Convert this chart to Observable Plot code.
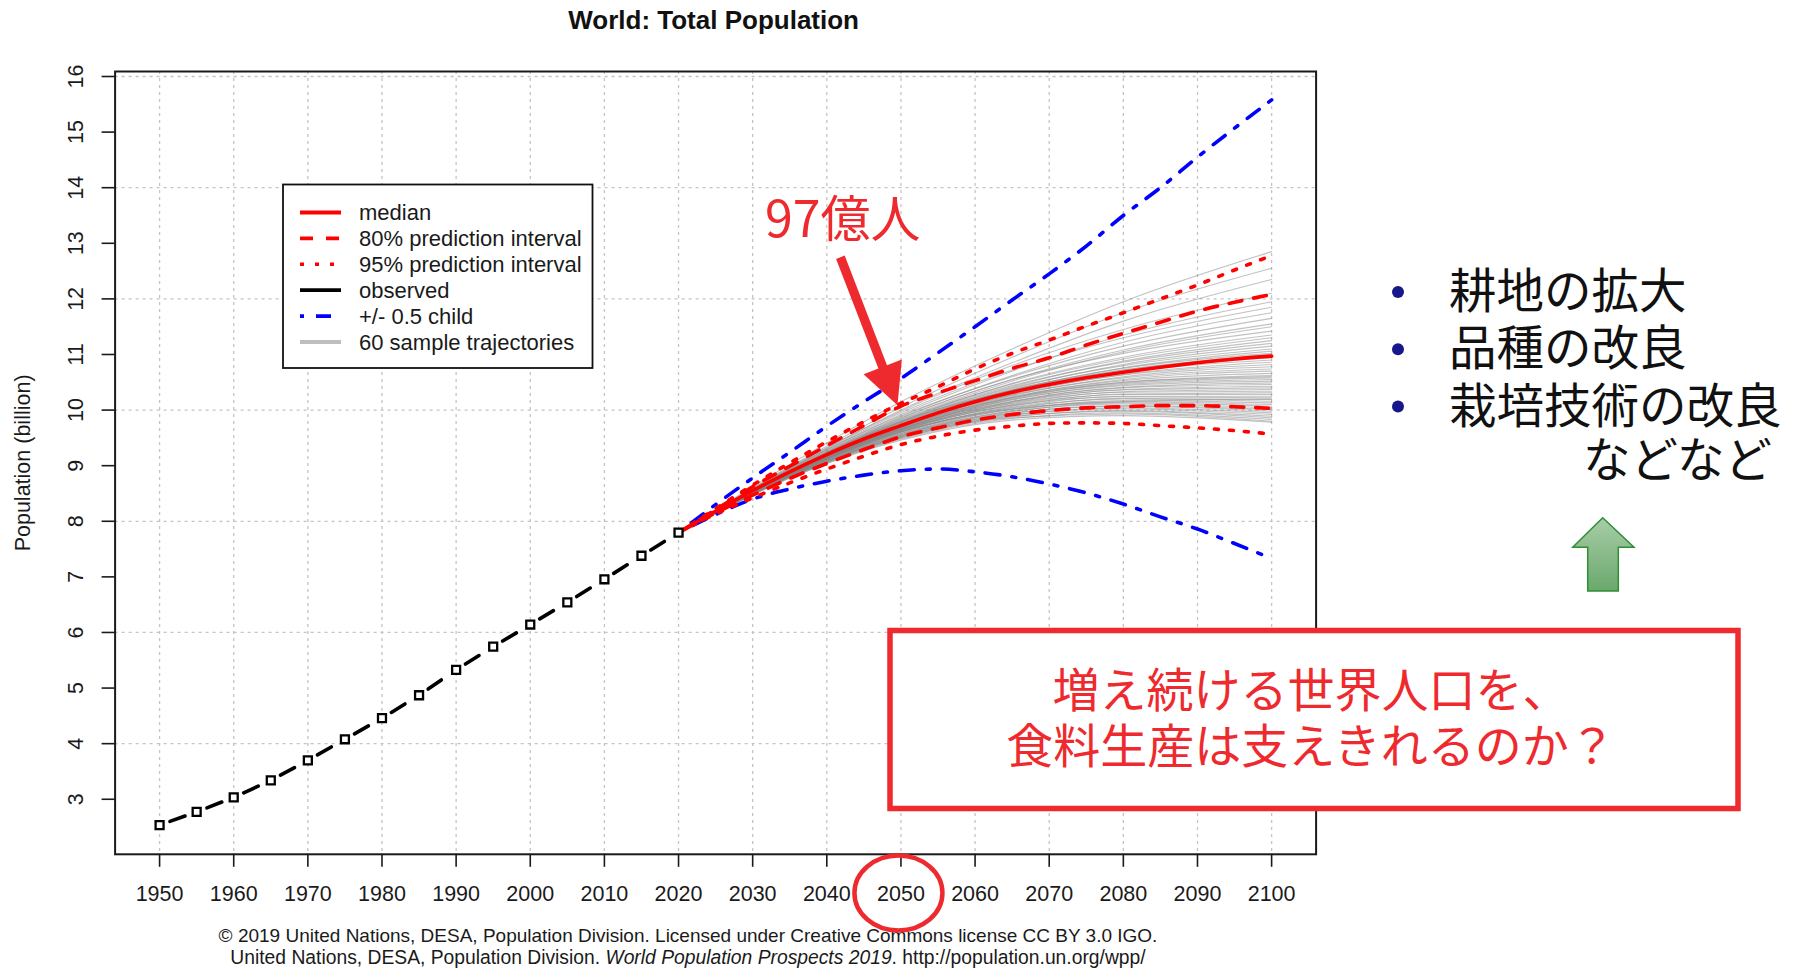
<!DOCTYPE html>
<html>
<head>
<meta charset="utf-8">
<script src="https://cdn.jsdelivr.net/npm/d3@7"></script>
<script src="https://cdn.jsdelivr.net/npm/@observablehq/plot@0.6"></script>
<style>
  html, body { margin: 0; padding: 0; background: #fff; }
  #chart { position: relative; width: 1797px; height: 970px; overflow: hidden; background: #fff; }
</style>
</head>
<body>
<div id="chart"></div>
<script>
// World population (billions): estimates 1950–2020, probabilistic projections 2020–2100
const observedYears = [1950, 1955, 1960, 1965, 1970, 1975, 1980, 1985, 1990, 1995, 2000, 2005, 2010, 2015, 2020];
const observedPop   = [2.536, 2.773, 3.034, 3.339, 3.700, 4.079, 4.458, 4.871, 5.327, 5.744, 6.143, 6.542, 6.957, 7.380, 7.795];

const projYears  = [2020, 2025, 2030, 2035, 2040, 2045, 2050, 2055, 2060, 2065, 2070, 2075, 2080, 2085, 2090, 2095, 2100];
const median     = [7.795, 8.18, 8.55, 8.89, 9.20, 9.48, 9.72, 9.95, 10.15, 10.32, 10.46, 10.58, 10.68, 10.77, 10.85, 10.92, 10.97];
const pi80Upper  = [7.795, 8.21, 8.62, 8.99, 9.36, 9.72, 10.07, 10.31, 10.53, 10.75, 10.94, 11.17, 11.38, 11.58, 11.78, 11.94, 12.08];
const pi80Lower  = [7.795, 8.15, 8.47, 8.77, 9.04, 9.29, 9.52, 9.68, 9.82, 9.92, 9.99, 10.04, 10.06, 10.08, 10.08, 10.06, 10.03];
const pi95Upper  = [7.795, 8.23, 8.65, 9.05, 9.43, 9.79, 10.12, 10.42, 10.74, 11.02, 11.26, 11.51, 11.75, 12.00, 12.25, 12.52, 12.78];
const pi95Lower  = [7.795, 8.13, 8.42, 8.69, 8.94, 9.17, 9.38, 9.53, 9.64, 9.71, 9.76, 9.77, 9.76, 9.72, 9.68, 9.63, 9.57];
const childUpper = [7.795, 8.30, 8.78, 9.24, 9.71, 10.15, 10.57, 11.03, 11.50, 11.98, 12.45, 12.95, 13.50, 14.00, 14.55, 15.07, 15.58];
const childLower = [7.795, 8.12, 8.40, 8.58, 8.72, 8.83, 8.91, 8.94, 8.89, 8.80, 8.67, 8.51, 8.31, 8.08, 7.86, 7.60, 7.33];

// 60 sample trajectories, values at these years (2020 starts at the last estimate)
const trajectoryYears = [2035, 2050, 2065, 2080, 2100];
const trajectories = [
  [9.02, 10.15, 11.10, 11.95, 12.85], [8.98, 10.05, 10.95, 11.75, 12.55], [8.95, 10.00, 10.85, 11.60, 12.35],
  [8.97, 9.98, 10.80, 11.45, 12.10],  [8.93, 9.92, 10.70, 11.35, 11.95],  [8.94, 9.95, 10.72, 11.30, 11.85],
  [8.92, 9.88, 10.62, 11.22, 11.75],  [8.95, 9.90, 10.60, 11.15, 11.65],  [8.90, 9.85, 10.55, 11.08, 11.55],
  [8.91, 9.83, 10.52, 11.05, 11.50],  [8.92, 9.86, 10.55, 11.02, 11.42],  [8.89, 9.80, 10.48, 10.95, 11.35],
  [8.90, 9.82, 10.47, 10.92, 11.30],  [8.88, 9.78, 10.42, 10.88, 11.25],  [8.91, 9.80, 10.44, 10.86, 11.20],
  [8.87, 9.76, 10.38, 10.82, 11.15],  [8.89, 9.78, 10.40, 10.80, 11.10],  [8.88, 9.74, 10.35, 10.76, 11.06],
  [8.86, 9.75, 10.36, 10.75, 11.02],  [8.89, 9.77, 10.36, 10.72, 10.98],  [8.87, 9.72, 10.32, 10.70, 10.94],
  [8.88, 9.75, 10.33, 10.68, 10.90],  [8.86, 9.71, 10.28, 10.64, 10.86],  [8.87, 9.73, 10.30, 10.63, 10.82],
  [8.85, 9.69, 10.26, 10.60, 10.78],  [8.88, 9.72, 10.27, 10.58, 10.74],  [8.85, 9.68, 10.23, 10.55, 10.70],
  [8.86, 9.70, 10.24, 10.53, 10.66],  [8.84, 9.66, 10.20, 10.50, 10.62],  [8.87, 9.70, 10.22, 10.48, 10.58],
  [8.85, 9.66, 10.18, 10.46, 10.55],  [8.86, 9.68, 10.19, 10.44, 10.52],  [8.83, 9.63, 10.15, 10.41, 10.49],
  [8.85, 9.66, 10.16, 10.40, 10.46],  [8.84, 9.64, 10.13, 10.37, 10.43],  [8.86, 9.67, 10.15, 10.36, 10.40],
  [8.83, 9.62, 10.10, 10.33, 10.37],  [8.85, 9.65, 10.12, 10.32, 10.34],  [8.82, 9.60, 10.07, 10.29, 10.31],
  [8.84, 9.63, 10.09, 10.28, 10.28],  [8.83, 9.60, 10.05, 10.25, 10.25],  [8.85, 9.64, 10.08, 10.24, 10.22],
  [8.82, 9.58, 10.02, 10.21, 10.19],  [8.84, 9.61, 10.04, 10.20, 10.16],  [8.81, 9.56, 9.99, 10.17, 10.13],
  [8.83, 9.60, 10.01, 10.15, 10.10],  [8.81, 9.55, 9.97, 10.13, 10.07],   [8.83, 9.58, 9.98, 10.11, 10.04],
  [8.80, 9.53, 9.94, 10.08, 10.01],   [8.82, 9.56, 9.95, 10.07, 9.98],    [8.80, 9.52, 9.91, 10.04, 9.95],
  [8.81, 9.54, 9.92, 10.02, 9.92],    [8.79, 9.50, 9.88, 9.99, 9.89],     [8.81, 9.52, 9.89, 9.98, 9.86],
  [8.78, 9.48, 9.85, 9.95, 9.83],     [8.80, 9.50, 9.86, 9.93, 9.80],     [8.78, 9.46, 9.82, 9.90, 9.78],
  [8.90, 9.80, 10.35, 10.72, 11.00],  [8.84, 9.66, 10.22, 10.50, 10.60],  [8.86, 9.62, 10.02, 10.15, 10.20]
];

const xTicks = [1950, 1960, 1970, 1980, 1990, 2000, 2010, 2020, 2030, 2040, 2050, 2060, 2070, 2080, 2090, 2100];
const yTicks = [3, 4, 5, 6, 7, 8, 9, 10, 11, 12, 13, 14, 15, 16];
const yGrid  = [4, 6, 8, 10, 12, 14, 16];

const legendLabels = ["median", "80% prediction interval", "95% prediction interval", "observed", "+/- 0.5 child", "60 sample trajectories"];
const bulletItems = ["耕地の拡大", "品種の改良", "栽培技術の改良"];
const bulletTail = "などなど";
const questionLines = ["増え続ける世界人口を、", "食料生産は支えきれるのか？"];
const callout = "97億人";

// ---- tidy rows for Plot ----
const series = (years, values, name) => years.map((year, i) => ({year, value: values[i], name}));
const start = observedPop[observedPop.length - 1];
const trajRows = trajectories.flatMap((vals, id) =>
  [{year: 2020, value: start, id}, ...trajectoryYears.map((year, i) => ({year, value: vals[i], id}))]);
const observedRows = series(observedYears, observedPop, "observed");
// one short segment between consecutive observations (points-and-lines style)
const observedSegments = observedRows.slice(1).flatMap((d, i) => [
  {year: observedRows[i].year, value: observedRows[i].value, seg: i},
  {year: d.year, value: d.value, seg: i}
]);

const RED = "#ff0000", BLUE = "#0000ff";
const sans = "'Liberation Sans', Arial, Helvetica, sans-serif";
const jp = "'Noto Sans CJK JP', 'Noto Sans', sans-serif";

const plot = Plot.plot({
  width: 1797,
  height: 970,
  marginLeft: 114.6,
  marginRight: 481.4,
  marginTop: 71,
  marginBottom: 116.2,
  x: {domain: [1944, 2106]},
  y: {domain: [2.01, 16.09]},
  style: {fontFamily: sans, fontSize: "21.5px", color: "#1a1a1a", background: "#fff"},
  marks: [
    Plot.ruleX(xTicks, {stroke: "#c4c4c4", strokeWidth: 1.3, strokeDasharray: "3,4"}),
    Plot.ruleY(yGrid, {stroke: "#c4c4c4", strokeWidth: 1.3, strokeDasharray: "3,4"}),
    Plot.line(trajRows, {x: "year", y: "value", z: "id", stroke: "#858585", strokeOpacity: 0.5, strokeWidth: 1.1, curve: "monotone-x"}),
    Plot.line(series(projYears, childUpper), {x: "year", y: "value", stroke: BLUE, strokeWidth: 3.6, strokeDasharray: "4,12,15,12", curve: "monotone-x"}),
    Plot.line(series(projYears, childLower), {x: "year", y: "value", stroke: BLUE, strokeWidth: 3.6, strokeDasharray: "4,12,15,12", curve: "monotone-x"}),
    Plot.line(series(projYears, pi95Upper), {x: "year", y: "value", stroke: RED, strokeWidth: 3.6, strokeDasharray: "4,11", curve: "monotone-x"}),
    Plot.line(series(projYears, pi95Lower), {x: "year", y: "value", stroke: RED, strokeWidth: 3.6, strokeDasharray: "4,11", curve: "monotone-x"}),
    Plot.line(series(projYears, pi80Upper), {x: "year", y: "value", stroke: RED, strokeWidth: 3.6, strokeDasharray: "13,12", curve: "monotone-x"}),
    Plot.line(series(projYears, pi80Lower), {x: "year", y: "value", stroke: RED, strokeWidth: 3.6, strokeDasharray: "13,12", curve: "monotone-x"}),
    Plot.line(series(projYears, median), {x: "year", y: "value", stroke: RED, strokeWidth: 3.6, curve: "monotone-x"}),
    Plot.line(observedSegments, {x: "year", y: "value", z: "seg", stroke: "#000", strokeWidth: 3.6, strokeDasharray: "0,11,16,1000"}),
    Plot.dot(observedRows, {x: "year", y: "value", symbol: "square", r: 4.5, fill: "#fff", stroke: "#000", strokeWidth: 2.3}),
    Plot.frame({stroke: "#1a1a1a", strokeWidth: 2}),
    Plot.axisX(xTicks, {tickSize: 13, tickPadding: 18, strokeWidth: 1.6, label: null, tickFormat: (d) => String(d)}),
    Plot.axisY(yTicks, {tickSize: 13, strokeWidth: 1.6, fill: "none", label: null}),
    Plot.text(yTicks, {y: (d) => d, text: (d) => String(d), frameAnchor: "left", dx: -39, rotate: -90,
      textAnchor: "middle", lineAnchor: "middle", fontSize: 21.5, fill: "#1a1a1a"}),
    Plot.text(["Population (billion)"], {frameAnchor: "left", dx: -91.6, rotate: -90,
      textAnchor: "middle", lineAnchor: "middle", fontSize: 21.5, fill: "#1a1a1a"}),
    Plot.text(["World: Total Population"], {frameAnchor: "top", dy: -43, dx: -2, lineAnchor: "bottom",
      fontSize: 26, fontWeight: "bold", fill: "#111"})
  ]
});

document.getElementById("chart").appendChild(plot);

const svg = d3.select(plot);
const sx = plot.scale("x"), sy = plot.scale("y");
const X = (v) => sx.apply(v), Y = (v) => sy.apply(v);

// ---- legend ----
const legend = svg.append("g").attr("font-family", sans).attr("font-size", 22)
  .attr("fill", "#1a1a1a").attr("text-anchor", "start");
legend.append("rect").attr("x", 283).attr("y", 184.5).attr("width", 309.5).attr("height", 183.5)
  .attr("fill", "#fff").attr("stroke", "#111").attr("stroke-width", 1.8);
const keyStyles = [
  {stroke: RED, dash: null, width: 3.8},
  {stroke: RED, dash: "13,13", width: 3.6},
  {stroke: RED, dash: "4,11", width: 3.6},
  {stroke: "#000", dash: null, width: 3.8},
  {stroke: BLUE, dash: "4,12,15,12", width: 3.6},
  {stroke: "#bebebe", dash: null, width: 3.8}
];
legendLabels.forEach((label, i) => {
  const y = 212.5 + i * 25.9;
  legend.append("line").attr("x1", 300).attr("x2", 341).attr("y1", y).attr("y2", y)
    .attr("stroke", keyStyles[i].stroke).attr("stroke-width", keyStyles[i].width)
    .attr("stroke-dasharray", keyStyles[i].dash);
  legend.append("text").attr("x", 359).attr("y", y).attr("dy", "0.36em").text(label);
});

// ---- source note ----
const note = svg.append("g").attr("font-family", sans).attr("font-size", 19).attr("fill", "#1a1a1a").attr("text-anchor", "middle");
note.append("text").attr("x", 688).attr("y", 942)
  .text("© 2019 United Nations, DESA, Population Division. Licensed under Creative Commons license CC BY 3.0 IGO.");
const note2 = note.append("text").attr("x", 688).attr("y", 964).attr("font-size", 19.3);
note2.append("tspan").text("United Nations, DESA, Population Division. ");
note2.append("tspan").attr("font-style", "italic").text("World Population Prospects 2019");
note2.append("tspan").text(". http://population.un.org/wpp/");

// ---- annotations ----
const ANN_RED = "#ee2a2e";
const ann = svg.append("g").attr("font-family", jp).attr("text-anchor", "start");

// callout for the 2050 median
ann.append("text").attr("x", 765).attr("y", 237).attr("font-size", 50).attr("fill", ANN_RED).text(callout);

// arrow from the callout down to 2050
(function () {
  const tail = [X(2041.9), Y(12.74)], tip = [X(2049.6), Y(10.08)];
  const dx = tip[0] - tail[0], dy = tip[1] - tail[1], len = Math.hypot(dx, dy);
  const ux = dx / len, uy = dy / len, nx = -uy, ny = ux;
  const headLen = 41, headHalf = 20.5, shaftHalf = 4.6;
  const bx = tip[0] - ux * headLen, by = tip[1] - uy * headLen;
  const pts = [
    [tail[0] + nx * shaftHalf, tail[1] + ny * shaftHalf],
    [bx + nx * shaftHalf, by + ny * shaftHalf],
    [bx + nx * headHalf, by + ny * headHalf],
    tip,
    [bx - nx * headHalf, by - ny * headHalf],
    [bx - nx * shaftHalf, by - ny * shaftHalf],
    [tail[0] - nx * shaftHalf, tail[1] - ny * shaftHalf]
  ];
  ann.append("polygon").attr("points", pts.map((p) => p.join(",")).join(" ")).attr("fill", ANN_RED);
})();

// ring around the 2050 tick label
ann.append("ellipse").attr("cx", X(2050) - 2).attr("cy", 893).attr("rx", 44).attr("ry", 37.5)
  .attr("fill", "none").attr("stroke", ANN_RED).attr("stroke-width", 4.5);

// bullet list on the right
bulletItems.forEach((t, i) => {
  const base = 308 + i * 57.3;
  ann.append("circle").attr("cx", 1398).attr("cy", base - 16).attr("r", 6).attr("fill", "#17178c");
  ann.append("text").attr("x", 1449).attr("y", base).attr("font-size", 47.5).attr("fill", "#111").text(t);
});
ann.append("text").attr("x", 1583).attr("y", 477).attr("font-size", 47.5).attr("fill", "#111").text(bulletTail);

// green up arrow
const defs = svg.append("defs");
const grad = defs.append("linearGradient").attr("id", "upGreen").attr("x1", 0).attr("y1", 0).attr("x2", 0).attr("y2", 1);
grad.append("stop").attr("offset", "0%").attr("stop-color", "#a8cda8");
grad.append("stop").attr("offset", "100%").attr("stop-color", "#6aa86c");
ann.append("polygon")
  .attr("points", [[1602.7, 517.7], [1634, 547.3], [1618.3, 547.3], [1618.3, 591], [1587.7, 591], [1587.7, 547.3], [1572.7, 547.3]].map((p) => p.join(",")).join(" "))
  .attr("fill", "url(#upGreen)").attr("stroke", "#2f8f35").attr("stroke-width", 1.5);

// question box
ann.append("rect").attr("x", 890).attr("y", 630.5).attr("width", 848).attr("height", 178)
  .attr("fill", "#fff").attr("stroke", ANN_RED).attr("stroke-width", 5.5);
questionLines.forEach((t, i) => {
  ann.append("text").attr("x", 1311).attr("y", 707 + i * 56).attr("text-anchor", "middle")
    .attr("font-size", 47).attr("fill", ANN_RED).text(t);
});
</script>
</body>
</html>
